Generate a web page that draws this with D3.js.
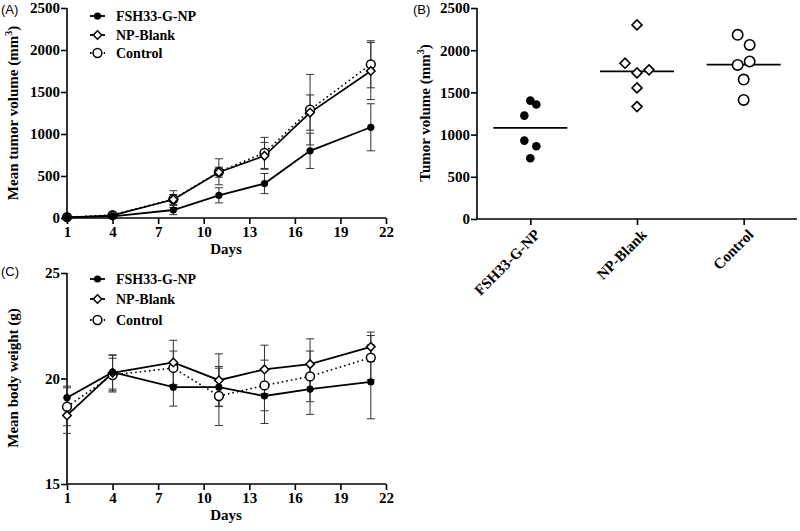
<!DOCTYPE html>
<html><head><meta charset="utf-8">
<script src="https://cdn.jsdelivr.net/npm/d3@7"></script>
<style>
body{margin:0;background:#fff;}
svg{display:block;}
.tick text{font-family:"Liberation Serif","Times New Roman",serif;font-weight:bold;font-size:15px;fill:#000;}
.lbl{font-family:"Liberation Serif","Times New Roman",serif;font-weight:bold;fill:#000;}
.pl{font-family:"Liberation Sans",Arial,sans-serif;font-size:13px;fill:#000;}
</style></head>
<body><svg id="c" width="800" height="531"></svg>
<script>
const days = [1, 4, 8, 11, 14, 17, 21];
const dayTicks = [1, 4, 7, 10, 13, 16, 19, 22];
const groups = ["FSH33-G-NP", "NP-Blank", "Control"];

// Panel A: mean tumor volume (mm3)
const volFSH = [10, 20, 95, 270, 410, 800, 1080];
const volFSHErr = [5, 10, 55, 90, 120, 210, 280];
const volNP = [5, 30, 220, 545, 740, 1255, 1750];
const volNPErr = [5, 10, 60, 60, 160, 210, 340];
const volCtrl = [10, 35, 225, 550, 775, 1290, 1830];
const volCtrlErr = [5, 10, 100, 155, 185, 420, 280];
const volTicks = [0, 500, 1000, 1500, 2000, 2500];

// Panel B: individual tumor volumes at day 21
const indFSH = [1403, 1356, 1225, 929, 862, 719];
const indNP = [2300, 1846, 1731, 1767, 1553, 1332];
const indCtrl = [2182, 2063, 1826, 1866, 1652, 1411];
// scatter slots (left/centre/right) as seen in the picture
const slotFSH = [0, 1, -1, -1, 1, 0];
const slotNP = [0, -1, 0, 1, 0, 0];
const slotCtrl = [-1, 1, -1, 1, 0, 0];
const medians = [1080, 1750, 1830];

// Panel C: mean body weight (g)
const wFSH = [19.09, 20.30, 19.59, 19.59, 19.17, 19.50, 19.84];
const wFSHErr = [0.55, 0.8, 0.9, 0.9, 1.3, 1.2, 1.75];
const wNP = [18.25, 20.27, 20.76, 19.92, 20.43, 20.68, 21.50];
const wNPErr = [0.85, 0.85, 1.05, 1.25, 1.15, 1.2, 0.7];
const wCtrl = [18.66, 20.16, 20.50, 19.17, 19.67, 20.10, 20.99];
const wCtrlErr = [0.9, 0.8, 0.8, 1.4, 1.2, 1.2, 1.05];
const wTicks = [15, 20, 25];

const svg = d3.select("#c");

function marker(g, type, x, y) {
  if (type === 0) g.append("circle").attr("cx", x).attr("cy", y).attr("r", 3.6).attr("fill", "#000");
  else if (type === 1) g.append("path").attr("d", d3.symbol(d3.symbolDiamond2, 46)()).attr("transform", `translate(${x},${y})`).attr("fill", "#fff").attr("stroke", "#000").attr("stroke-width", 1.5);
  else g.append("circle").attr("cx", x).attr("cy", y).attr("r", 4.4).attr("fill", "#fff").attr("stroke", "#000").attr("stroke-width", 1.5);
}

function linePanel(cfg) {
  const x = d3.scaleLinear().domain([1, 22]).range([67, 386]);
  const y = d3.scaleLinear().domain(cfg.domain).range(cfg.yRange);
  const g = svg.append("g");
  const xa = g.append("g").attr("transform", `translate(0,${cfg.yRange[0]})`)
    .call(d3.axisBottom(x).tickValues(dayTicks).tickSize(6).tickPadding(2).tickFormat(d3.format("d")));
  const ya = g.append("g").attr("transform", `translate(67,0)`)
    .call(d3.axisLeft(y).tickValues(cfg.ticks).tickSize(6).tickPadding(1).tickFormat(d3.format("d")));
  [xa, ya].forEach(a => { a.selectAll("path,line").attr("stroke", "#000").attr("stroke-width", 1.6); a.select(".domain").attr("d", a === xa ? `M67,0H386` : `M0,${cfg.yRange[0]}V${cfg.yRange[1]}`); });
  const series = cfg.series;
  series.forEach(s => {
    s.v.forEach((v, i) => {
      const cx = x(days[i]), e = s.e[i];
      g.append("line").attr("x1", cx).attr("x2", cx).attr("y1", y(v - e)).attr("y2", y(v + e)).attr("stroke", "#333").attr("stroke-width", 1);
      [v - e, v + e].forEach(t => g.append("line").attr("x1", cx - 4).attr("x2", cx + 4).attr("y1", y(t)).attr("y2", y(t)).attr("stroke", "#333").attr("stroke-width", 1));
    });
  });
  const line = d3.line().x((d, i) => x(days[i])).y(d => y(d));
  series.slice().reverse().forEach(s => {
    g.append("path").attr("d", line(s.v)).attr("fill", "none").attr("stroke", "#000").attr("stroke-width", s.t === 2 ? 1.6 : 1.8).attr("stroke-dasharray", s.t === 2 ? "1.6,3" : null);
  });
  series.slice().reverse().forEach(s => s.v.forEach((v, i) => marker(g, s.t, x(days[i]), y(v))));
  cfg.legendY.forEach((ly, k) => {
    g.append("line").attr("x1", 90).attr("x2", 105).attr("y1", ly).attr("y2", ly).attr("stroke", "#000").attr("stroke-width", 1.8).attr("stroke-dasharray", k === 2 ? "1.6,3" : null);
    marker(g, k, 97.5, ly);
    g.append("text").attr("class", "lbl").attr("x", 116).attr("y", ly + 5).attr("font-size", 14).text(groups[k]);
  });
  g.append("text").attr("class", "lbl").attr("x", 226).attr("y", cfg.yRange[0] + 36).attr("text-anchor", "middle").attr("font-size", 15).text("Days");
  const yt = g.append("text").attr("class", "lbl").attr("transform", `translate(${cfg.ytX},${cfg.ytY}) rotate(-90)`).attr("text-anchor", "middle").attr("font-size", 15);
  cfg.ytitle(yt);
  g.append("text").attr("class", "pl").attr("x", 1).attr("y", cfg.plY).text(cfg.pl);
}

linePanel({
  domain: [0, 2500], yRange: [218, 8], ticks: volTicks,
  series: [{v: volFSH, e: volFSHErr, t: 0}, {v: volNP, e: volNPErr, t: 1}, {v: volCtrl, e: volCtrlErr, t: 2}],
  legendY: [16, 35, 53], ytX: 18, ytY: 113, plY: 14, pl: "(A)",
  ytitle: t => { t.append("tspan").text("Mean tumor volume (mm"); t.append("tspan").attr("dy", -6).attr("font-size", 10).text("3"); t.append("tspan").attr("dy", 6).text(")"); }
});
linePanel({
  domain: [15, 25], yRange: [484, 273], ticks: wTicks,
  series: [{v: wFSH, e: wFSHErr, t: 0}, {v: wNP, e: wNPErr, t: 1}, {v: wCtrl, e: wCtrlErr, t: 2}],
  legendY: [279, 299, 320], ytX: 18, ytY: 378, plY: 276, pl: "(C)",
  ytitle: t => t.text("Mean body weight (g)")
});

// Panel B
(function () {
  const x = d3.scalePoint().domain(groups).range([477, 797]).padding(0.5);
  const y = d3.scaleLinear().domain([0, 2500]).range([219, 8]);
  const g = svg.append("g");
  const xa = g.append("g").attr("transform", "translate(0,219)").call(d3.axisBottom(x).tickSize(6).tickPadding(4));
  xa.selectAll("text").attr("text-anchor", "end").attr("transform", "rotate(-45)").attr("dx", "-0.3em").attr("dy", "0.6em");
  const ya = g.append("g").attr("transform", "translate(477,0)").call(d3.axisLeft(y).tickValues(volTicks).tickSize(6).tickPadding(1).tickFormat(d3.format("d")));
  [xa, ya].forEach(a => a.selectAll("path,line").attr("stroke", "#000").attr("stroke-width", 1.6));
  xa.select(".domain").attr("d", "M477,0H797");
  ya.select(".domain").attr("d", "M0,219V8");
  const sets = [indFSH, indNP, indCtrl];
  const slots = [slotFSH, slotNP, slotCtrl];
  const slotW = [6, 12, 6];
  sets.forEach((vals, k) => {
    const cx = x(groups[k]);
    g.append("line").attr("x1", cx - 37).attr("x2", cx + 37).attr("y1", y(medians[k])).attr("y2", y(medians[k])).attr("stroke", "#000").attr("stroke-width", 1.8);
    vals.forEach((v, i) => {
      const px = cx + slots[k][i] * slotW[k], py = y(v);
      if (k === 0) g.append("circle").attr("cx", px).attr("cy", py).attr("r", 4.3).attr("fill", "#000");
      else if (k === 1) g.append("path").attr("d", d3.symbol(d3.symbolDiamond2, 64)()).attr("transform", `translate(${px},${py})`).attr("fill", "#fff").attr("stroke", "#000").attr("stroke-width", 1.6);
      else g.append("circle").attr("cx", px).attr("cy", py).attr("r", 5.2).attr("fill", "#fff").attr("stroke", "#000").attr("stroke-width", 1.6);
    });
  });
  const yt = g.append("text").attr("class", "lbl").attr("transform", "translate(430,113) rotate(-90)").attr("text-anchor", "middle").attr("font-size", 15);
  yt.append("tspan").text("Tumor volume (mm"); yt.append("tspan").attr("dy", -6).attr("font-size", 10).text("3"); yt.append("tspan").attr("dy", 6).text(")");
  g.append("text").attr("class", "pl").attr("x", 413).attr("y", 14).text("(B)");
})();
</script></body></html>
